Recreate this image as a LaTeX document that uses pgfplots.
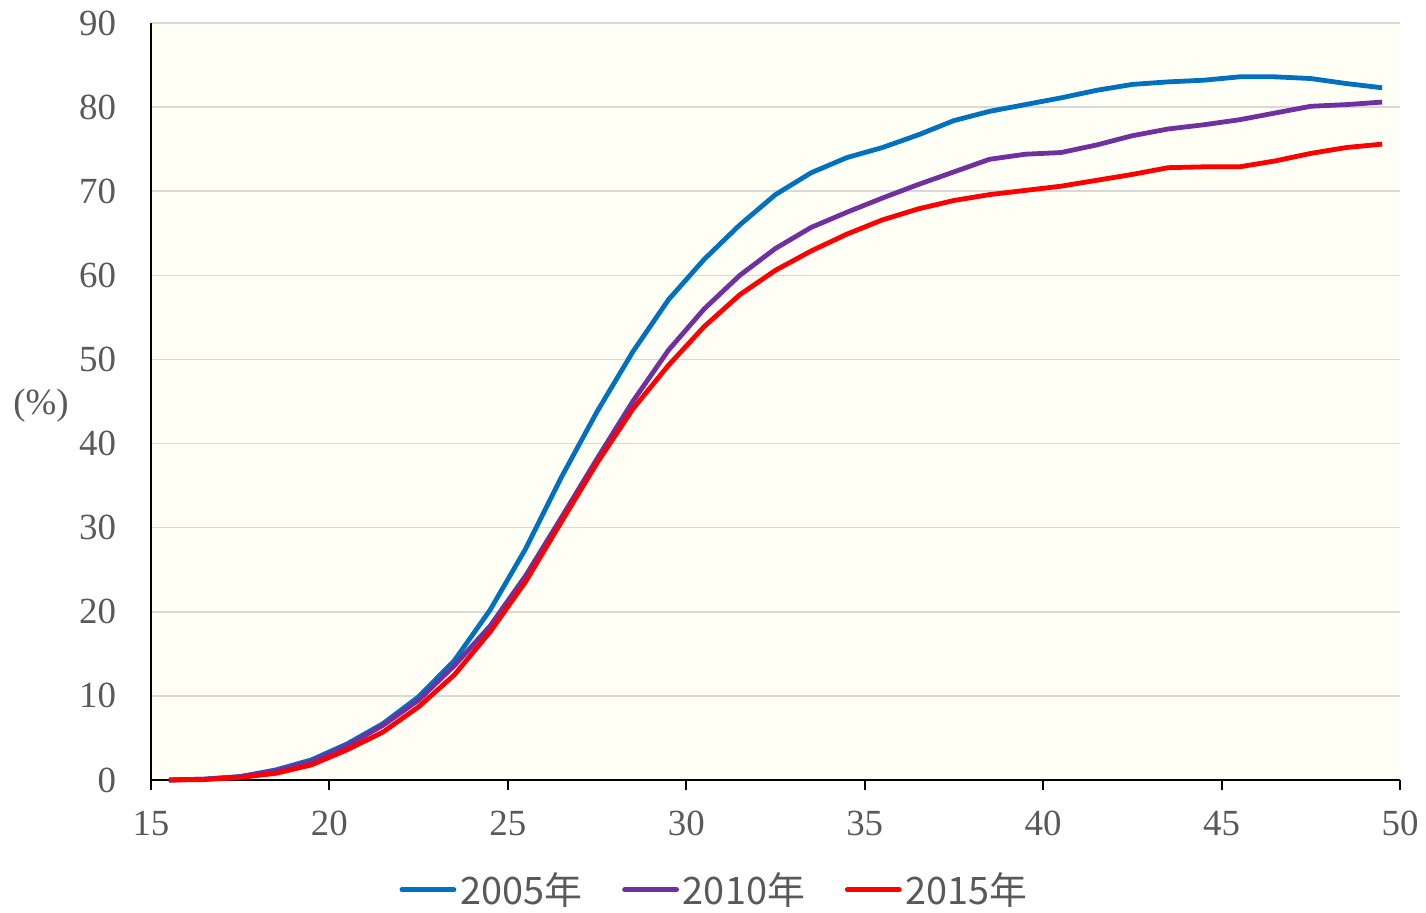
\documentclass[border=0pt]{standalone}
\usepackage{fontspec}
\setmainfont{Liberation Serif}
\newfontfamily\jpfont{Noto Sans CJK JP}
\usepackage{pgfplots}
\pgfplotsset{compat=1.18}

\definecolor{c05}{HTML}{0070C0}
\definecolor{c10}{HTML}{7030A0}
\definecolor{c15}{HTML}{FF0000}
\definecolor{txt}{HTML}{595959}
\definecolor{bg}{HTML}{FFFFF5}
\definecolor{gridc}{HTML}{D9D9D9}

\begin{document}
\begin{tikzpicture}
\useasboundingbox (-75.5bp,-66.5bp) rectangle (637.5bp,390bp);
\begin{axis}[
  at={(0,0)}, anchor=south west,
  scale only axis,
  width=624.5bp, height=378.5bp,
  xmin=15, xmax=50, ymin=0, ymax=90,
  xtick={15,20,...,50},
  ytick={0,10,...,90},
  axis x line*=bottom, axis y line*=left,
  axis line style={-, black, line width=1bp},
  axis background/.style={fill=bg},
  ymajorgrids,
  major grid style={gridc, line width=0.8bp},
  xtick style={black, line width=1bp},
  tick align=outside,
  major tick length=5bp,
  ytick style={draw=none},
  /pgf/number format/assume math mode=true,
  tick label style={font=\fontsize{18.5}{20}\selectfont, text=txt},
  xticklabel style={yshift=-7bp},
  yticklabel style={xshift=-9bp},
  legend style={at={(0.452,-0.145)}, anchor=center, draw=none, fill=none,
    legend columns=3, font=\jpfont\fontsize{19}{22}\selectfont, text=txt,
    /tikz/every even column/.append style={column sep=18bp}},
  legend image code/.code={\draw[#1, line cap=round] (0,0) -- (26bp,0);},
  every axis plot/.append style={line width=2.4bp},
  clip=false,
]
\addplot[c05] coordinates {
(15.5,0) (16.5,0.1) (17.5,0.4) (18.5,1.2) (19.5,2.4) (20.5,4.3) (21.5,6.7) (22.5,9.9)
(23.5,14.2) (24.5,20.2) (25.5,27.5) (26.5,36.0) (27.5,43.8) (28.5,50.9) (29.5,57.1)
(30.5,61.9) (31.5,66.0) (32.5,69.6) (33.5,72.2) (34.5,74.0) (35.5,75.2) (36.5,76.7)
(37.5,78.4) (38.5,79.5) (39.5,80.3) (40.5,81.1) (41.5,82.0) (42.5,82.7) (43.5,83.0)
(44.5,83.2) (45.5,83.6) (46.5,83.6) (47.5,83.4) (48.5,82.8) (49.5,82.3)
};
\addlegendentry{2005年}
\addplot[c10] coordinates {
(15.5,0) (16.5,0.1) (17.5,0.4) (18.5,1.1) (19.5,2.2) (20.5,4.1) (21.5,6.5) (22.5,9.5)
(23.5,13.6) (24.5,18.3) (25.5,24.3) (26.5,31.2) (27.5,38.2) (28.5,45.0) (29.5,51.1)
(30.5,56.0) (31.5,60.0) (32.5,63.2) (33.5,65.7) (34.5,67.5) (35.5,69.2) (36.5,70.8)
(37.5,72.3) (38.5,73.8) (39.5,74.4) (40.5,74.6) (41.5,75.5) (42.5,76.6) (43.5,77.4)
(44.5,77.9) (45.5,78.5) (46.5,79.3) (47.5,80.1) (48.5,80.3) (49.5,80.6)
};
\addlegendentry{2010年}
\addplot[c15] coordinates {
(15.5,0) (16.5,0.05) (17.5,0.3) (18.5,0.8) (19.5,1.8) (20.5,3.6) (21.5,5.7) (22.5,8.7)
(23.5,12.5) (24.5,17.6) (25.5,23.6) (26.5,30.7) (27.5,37.7) (28.5,44.1) (29.5,49.3)
(30.5,53.9) (31.5,57.7) (32.5,60.6) (33.5,62.9) (34.5,64.9) (35.5,66.6) (36.5,67.9)
(37.5,68.9) (38.5,69.6) (39.5,70.1) (40.5,70.6) (41.5,71.3) (42.5,72.0) (43.5,72.8)
(44.5,72.9) (45.5,72.9) (46.5,73.6) (47.5,74.5) (48.5,75.2) (49.5,75.6)
};
\addlegendentry{2015年}
\node[text=txt, font=\fontsize{18.5}{20}\selectfont] at ([xshift=-55bp]rel axis cs:0,0.495) {(\%)};
\end{axis}
\end{tikzpicture}
\end{document}
